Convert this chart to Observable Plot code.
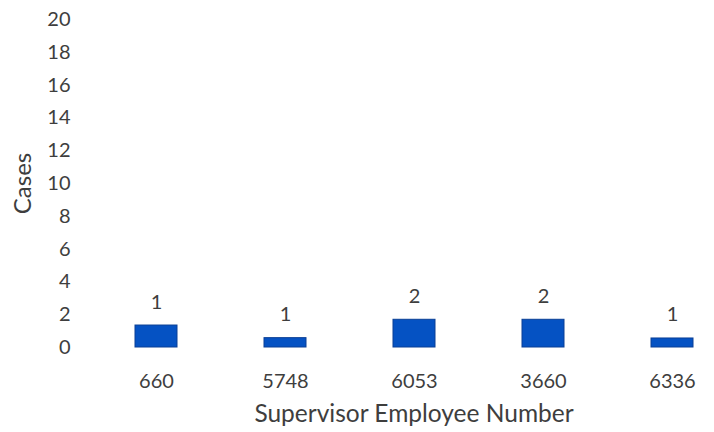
<!DOCTYPE html>
<html>
<head>
<meta charset="utf-8">
<script src="https://cdn.jsdelivr.net/npm/d3@7"></script>
<script src="https://cdn.jsdelivr.net/npm/@observablehq/plot@0.6"></script>
<style>
  html, body { margin: 0; padding: 0; background: #fff; }
  svg { display: block; }
</style>
</head>
<body>
<div id="chart"></div>
<script>
const supervisors = ["660", "5748", "6053", "3660", "6336"];
const barHeights = [1.34, 0.57, 1.69, 1.69, 0.55];
const valueLabels = ["1", "1", "2", "2", "1"];
const yTicks = [0, 2, 4, 6, 8, 10, 12, 14, 16, 18, 20];

const data = supervisors.map((s, i) => ({ s, v: barHeights[i], label: valueLabels[i] }));

const textColor = "#3e3e3e";
const font = "Lato, 'Open Sans', sans-serif";

const chart = Plot.plot({
  width: 714,
  height: 432,
  marginLeft: 116,
  marginRight: 1,
  marginTop: 19,
  marginBottom: 85,
  style: { fontFamily: font, fontSize: "20px", color: textColor, background: "#fff" },
  x: { domain: supervisors, paddingInner: 0.674, paddingOuter: 0.15, label: null },
  y: { domain: [0, 20], label: null },
  marks: [
    Plot.barY(data, { x: "s", y: "v", fill: "#0552c3", stroke: "#0a3f95", strokeWidth: 1 }),
    Plot.text(data, { x: "s", y: "v", text: "label", lineAnchor: "bottom", dy: -17, fontSize: 20, fill: textColor }),
    Plot.axisY(yTicks, { tickSize: 0, tickPadding: 46, label: null, fontSize: 20, fill: textColor }),
    Plot.axisX({ tickSize: 0, tickPadding: 26, label: null, fontSize: 20, fill: textColor }),
    Plot.text(["Cases"], { frameAnchor: "left", textAnchor: "middle", dx: -93, rotate: -90, fontSize: 24, fill: textColor }),
    Plot.text(["Supervisor Employee Number"], { frameAnchor: "bottom", dy: 74, dx: -1, fontSize: 24.5, fill: textColor })
  ]
});
document.getElementById("chart").appendChild(chart);
</script>
</body>
</html>
